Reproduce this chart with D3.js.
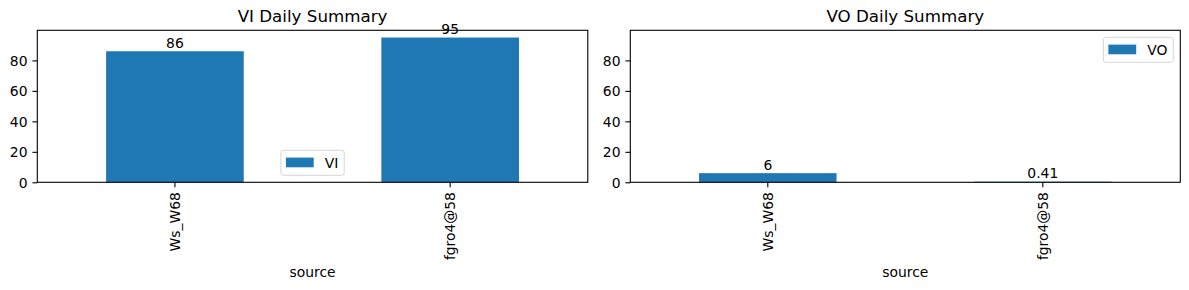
<!DOCTYPE html>
<html>
<head>
<meta charset="utf-8">
<script src="https://cdn.jsdelivr.net/npm/d3@7"></script>
<style>
  body { margin: 0; background: #fff; }
  text { font-family: "DejaVu Sans", sans-serif; fill: #000; }
</style>
</head>
<body>
<script>
// data
var categories = ["Ws_W68", "fgro4@58"];
var viValues = [86, 95];
var voValues = [6, 0.41];
var titles = ["VI Daily Summary", "VO Daily Summary"];
var seriesNames = ["VI", "VO"];
var yTicks = [0, 20, 40, 60, 80];
var xLabel = "source";

var W = 1189, H = 290;
var fs = 13.9; // 10pt at 100 dpi
var color = "#1f77b4";

var svg = d3.select("body").append("svg")
    .attr("width", W)
    .attr("height", H);

var plotTop = 30.3, plotBottom = 182.3;
var panels = [
    { x0: 37.3, x1: 587.8, values: viValues, title: titles[0], name: seriesNames[0], legend: "lower center" },
    { x0: 630.3, x1: 1180.3, values: voValues, title: titles[1], name: seriesNames[1], legend: "upper right" }
];

// shared y axis, 5% headroom like matplotlib
var yMax = d3.max(viValues.concat(voValues)) * 1.05;
var y = d3.scaleLinear().domain([0, yMax]).range([plotBottom, plotTop]);

panels.forEach(function (p) {
    var g = svg.append("g");

    var x = d3.scaleBand()
        .domain(categories)
        .range([p.x0, p.x1])
        .paddingInner(0.5)
        .paddingOuter(0.25);

    // bars
    g.selectAll("rect.bar")
        .data(p.values)
        .enter()
        .append("rect")
        .attr("class", "bar")
        .attr("x", (d, i) => x(categories[i]))
        .attr("width", x.bandwidth())
        .attr("y", (d) => y(d))
        .attr("height", (d) => plotBottom - y(d))
        .style("fill", color);

    // bar labels
    g.selectAll("text.val")
        .data(p.values)
        .enter()
        .append("text")
        .attr("class", "val")
        .attr("x", (d, i) => x(categories[i]) + x.bandwidth() / 2)
        .attr("y", (d) => y(d) - 3.4)
        .attr("text-anchor", "middle")
        .style("font-size", fs + "px")
        .text((d) => String(d));

    // frame
    g.append("rect")
        .attr("x", p.x0)
        .attr("y", plotTop)
        .attr("width", p.x1 - p.x0)
        .attr("height", plotBottom - plotTop)
        .style("fill", "none")
        .style("stroke", "#000")
        .style("stroke-width", 1.1);

    // y axis
    var yAxis = d3.axisLeft(y).tickValues(yTicks).tickSize(4.9).tickPadding(4.9);
    var ya = g.append("g")
        .attr("transform", "translate(" + p.x0 + ",0)")
        .call(yAxis);
    ya.select(".domain").remove();
    ya.selectAll("line").style("stroke", "#000").style("stroke-width", 1.1);
    ya.selectAll("text")
        .style("font-size", fs + "px")
        .style("font-family", "DejaVu Sans, sans-serif")
        .attr("dy", "0.36em");

    // x axis, rotated labels
    var xa = g.append("g")
        .attr("transform", "translate(0," + plotBottom + ")")
        .call(d3.axisBottom(x).tickSize(4.9).tickPadding(0));
    xa.select(".domain").remove();
    xa.selectAll("line").style("stroke", "#000").style("stroke-width", 1.1);
    xa.selectAll("text")
        .style("font-size", fs + "px")
        .style("font-family", "DejaVu Sans, sans-serif")
        .attr("text-anchor", "end")
        .attr("transform", "translate(0,9.8) rotate(-90)")
        .attr("x", 0)
        .attr("y", 0)
        .attr("dy", "0.36em");

    // x label
    g.append("text")
        .attr("x", (p.x0 + p.x1) / 2)
        .attr("y", 276.5)
        .attr("text-anchor", "middle")
        .style("font-size", fs + "px")
        .text(xLabel);

    // title
    g.append("text")
        .attr("x", (p.x0 + p.x1) / 2)
        .attr("y", 22)
        .attr("text-anchor", "middle")
        .style("font-size", "16.7px")
        .text(p.title);

    // legend
    var lg = g.append("g");
    var frame = lg.append("rect");
    var lt = lg.append("text")
        .style("font-size", fs + "px")
        .text(p.name);
    var tw = lt.node().getComputedTextLength();
    var bw = 5.2 + 27.8 + 11.1 + tw + 5.6;
    var bh = 25;
    var bx, by;
    if (p.legend === "lower center") {
        bx = (p.x0 + p.x1) / 2 - bw / 2;
        by = plotBottom - 7 - bh;
    } else {
        bx = p.x1 - 7 - bw;
        by = plotTop + 7;
    }
    frame.attr("x", bx)
        .attr("y", by)
        .attr("width", bw)
        .attr("height", bh)
        .attr("rx", 2.5)
        .style("fill", "#fff")
        .style("fill-opacity", 0.8)
        .style("stroke", "#d6d6d6")
        .style("stroke-width", 1);
    lg.append("rect")
        .attr("x", bx + 5)
        .attr("y", by + bh / 2 - 5.2)
        .attr("width", 27.8)
        .attr("height", 9.7)
        .style("fill", color);
    lt.attr("x", bx + 5 + 27.8 + 11.1)
        .attr("y", by + bh / 2 + 5);
});
</script>
</body>
</html>
